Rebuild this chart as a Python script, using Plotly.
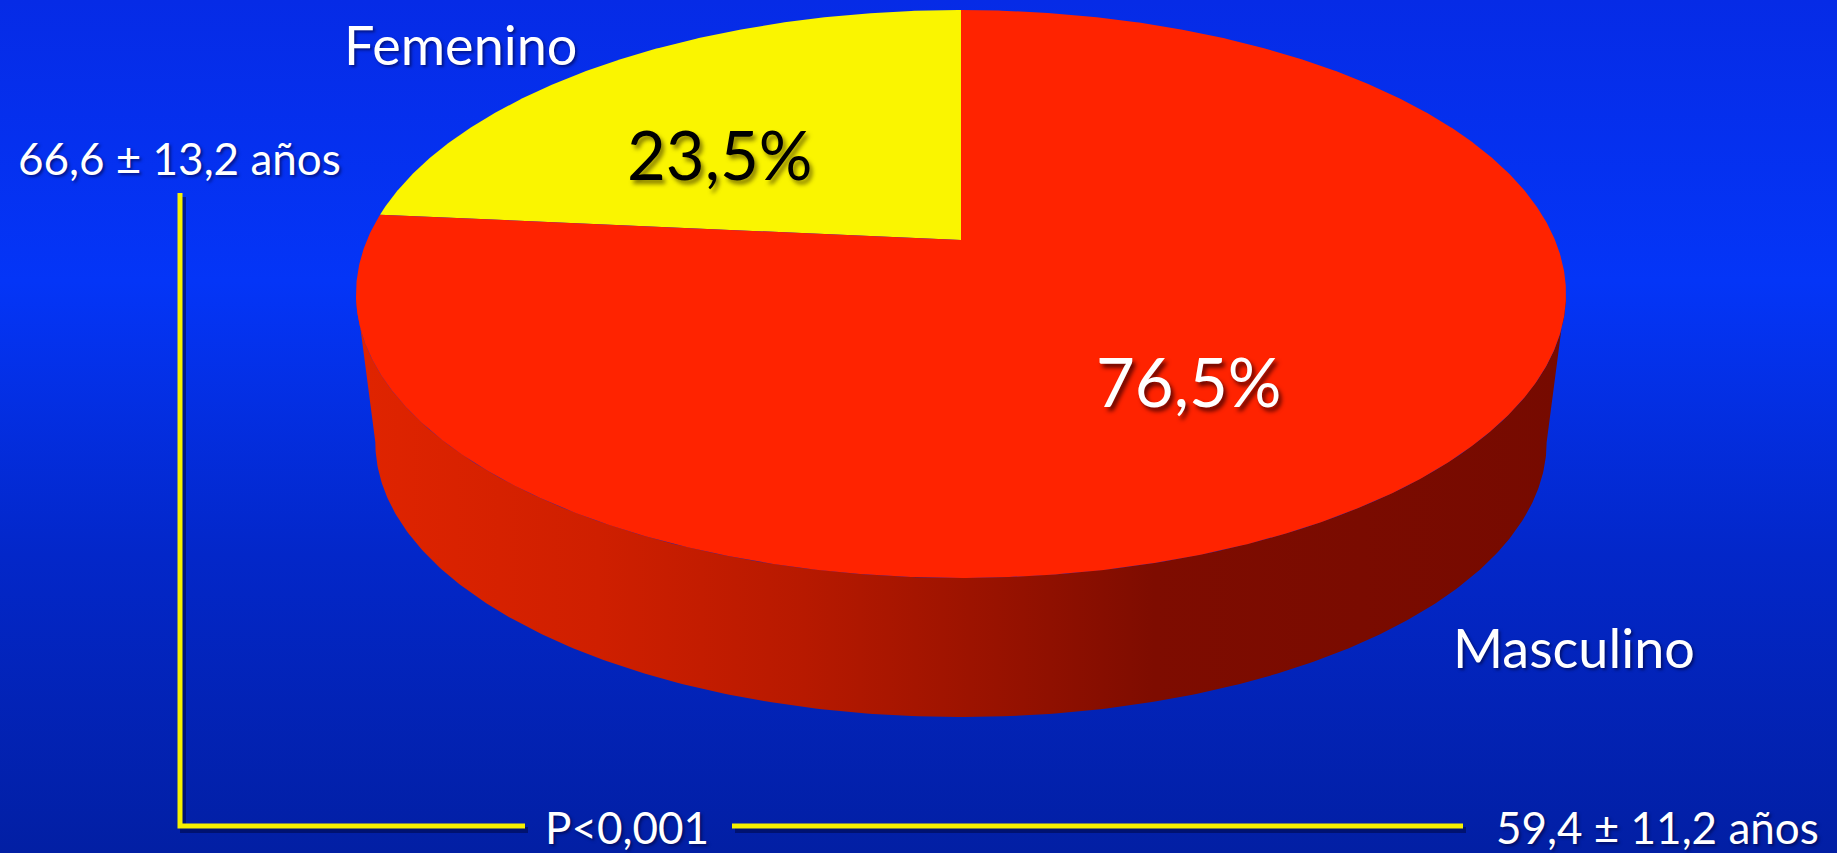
import numpy as np
import plotly.graph_objects as go

# ---- data ----
categories = ["Femenino", "Masculino"]
shares = [23.5, 76.5]
share_labels = ["23,5%", "76,5%"]
age_labels = ["66,6 ± 13,2 años", "59,4 ± 11,2 años"]
p_label = "P<0,001"

W, H = 1837, 853

# ---- 3D pie geometry (pixel space, y grows downward) ----
CX, CY = 961.0, 240.0      # apex of the top face
A, B = 594.0, 273.7        # horizontal / depth radii before perspective
K = 0.19                   # perspective foreshortening
BOTTOM_SCALE = 0.968       # bottom face appears slightly smaller
BOTTOM_SHIFT = 150.0       # depth of the disc

slice_colors = ["#FAF500", "#FF2300"]
side_scale = [[0.0, "#E02400"], [0.2, "#CF1F00"], [0.37, "#B71900"],
              [0.53, "#981200"], [0.66, "#7E0C00"], [1.0, "#760A00"]]


def project(theta_deg, r=1.0, s=1.0, dy=0.0):
    t = np.radians(theta_deg)
    u, v = r * np.cos(t), r * np.sin(t)
    d = 1.0 + K * v
    return CX + s * A * u / d, CY + dy - s * B * v / d


fig = go.Figure()

# background: vertical blue gradient
fig.add_trace(go.Scatter(
    x=[0, W, W, 0, 0], y=[0, 0, H, H, 0], mode="lines", fill="toself",
    line=dict(width=0), hoverinfo="skip", showlegend=False,
    fillgradient=dict(type="vertical", start=0, stop=H,
                      colorscale=[[0.0, "#062BE6"], [0.33, "#0435F7"],
                                  [0.65, "#0327C9"], [1.0, "#021FA4"]]),
))

# visible front wall of the disc
phi_l = 180.0 + np.degrees(np.arcsin(K))
phi_r = 360.0 - np.degrees(np.arcsin(K))
arc = np.linspace(phi_l, phi_r, 300)
tx, ty = project(arc)
bx, by = project(arc[::-1], s=BOTTOM_SCALE, dy=BOTTOM_SHIFT)
sx = np.concatenate([tx, bx, tx[:1]])
sy = np.concatenate([ty, by, ty[:1]])
fig.add_trace(go.Scatter(
    x=sx, y=sy, mode="lines", fill="toself", line=dict(width=0),
    hoverinfo="skip", showlegend=False,
    fillgradient=dict(type="horizontal", start=float(tx.min()), stop=float(tx.max()),
                      colorscale=side_scale),
))

# top face slices, starting at 12 o'clock and running counter-clockwise
start = 90.0
total = float(sum(shares))
for name, val, col in zip(categories, shares, slice_colors):
    sweep = 360.0 * val / total
    th = np.linspace(start, start + sweep, max(int(sweep * 3), 10))
    px, py = project(th)
    fig.add_trace(go.Scatter(
        x=np.concatenate([[CX], px, [CX]]), y=np.concatenate([[CY], py, [CY]]),
        mode="lines", fill="toself", fillcolor=col, line=dict(width=0),
        name=name, hoverinfo="name", showlegend=False,
    ))
    start += sweep

# yellow bracket linking the two age groups
bracket_segments = [
    ([180, 180, 525], [193, 826, 826]),
    ([732, 1463], [826, 826]),
]
for xs, ys in bracket_segments:
    fig.add_trace(go.Scatter(
        x=[v + 3 for v in xs], y=[v + 4 for v in ys], mode="lines",
        line=dict(color="rgba(0,8,70,0.55)", width=6),
        hoverinfo="skip", showlegend=False,
    ))
for xs, ys in bracket_segments:
    fig.add_trace(go.Scatter(
        x=xs, y=ys, mode="lines", line=dict(color="#F5F000", width=5),
        hoverinfo="skip", showlegend=False,
    ))

FONT = "Lato, 'Open Sans', sans-serif"
soft = "2px 2px 3px rgba(0,0,50,0.55)"
texts = [
    (categories[0], 460, 44, 54, "white", soft),
    (categories[1], 1574, 647, 54, "white", soft),
    (share_labels[0], 720, 154, 67, "black", "3px 4px 4px rgba(90,80,0,0.7)"),
    (share_labels[1], 1189, 381, 67, "white", "3px 4px 4px rgba(70,0,0,0.85)"),
    (age_labels[0], 179, 158, 44, "white", soft),
    (age_labels[1], 1657, 827, 44, "white", soft),
    (p_label, 627, 827, 44, "white", soft),
]
for t, x, y, size, color, shadow in texts:
    fig.add_annotation(
        x=x, y=y, xref="x", yref="y", text=t, showarrow=False,
        xanchor="center", yanchor="middle",
        font=dict(family=FONT, size=size, color=color, shadow=shadow),
    )

fig.update_layout(
    width=W, height=H, margin=dict(l=0, r=0, t=0, b=0),
    paper_bgcolor="#0330E0", plot_bgcolor="#0330E0",
    xaxis=dict(range=[0, W], visible=False, fixedrange=True),
    yaxis=dict(range=[H, 0], visible=False, fixedrange=True),
    showlegend=False,
)

fig.write_html("out.html", config={"displayModeBar": False})
